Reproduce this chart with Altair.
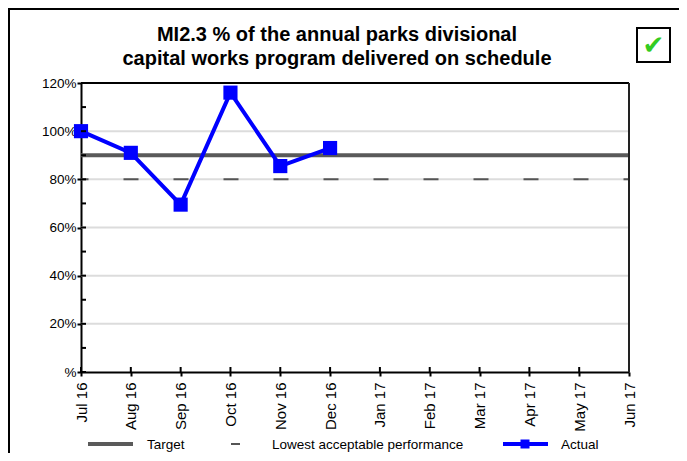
import altair as alt
import pandas as pd

months = ["Jul 16", "Aug 16", "Sep 16", "Oct 16", "Nov 16", "Dec 16",
          "Jan 17", "Feb 17", "Mar 17", "Apr 17", "May 17", "Jun 17"]
actual = [100, 91, 69.5, 116, 85.5, 93]
target = 90
lowest = 80
grid_vals = [20, 40, 60, 80, 100]
y_ticks = [0, 10, 20, 30, 40, 50, 60, 70, 80, 90, 100, 110, 120]
title_lines = ["MI2.3 % of the annual parks divisional",
               "capital works program delivered on schedule"]

W, H = 548, 289
FONT = "Liberation Sans"

df_act = pd.DataFrame({"month": months[:len(actual)], "value": actual})
df_months = pd.DataFrame({"month": months})
df_grid = pd.DataFrame({"v": grid_vals})
df_yt = pd.DataFrame({"v": y_ticks})
one = pd.DataFrame({"a": [0]})

xs = alt.Scale(domain=months, type="point", padding=0)
ys = alt.Scale(domain=[0, 120], nice=False)

x_enc = alt.X("month:N", scale=xs, sort=months, title=None,
              axis=alt.Axis(labelAngle=-90, labelAlign="right", labelBaseline="middle",
                            labelFontSize=15, labelFont=FONT, labelColor="black",
                            labelPadding=6,
                            tickSize=4, tickWidth=2, tickColor="black",
                            domainColor="black", domainWidth=2, grid=False))
y_axis = alt.Axis(values=y_ticks, grid=False, tickSize=4, tickWidth=2, tickColor="black",
                  domainColor="black", domainWidth=2, labelFontSize=13.5, labelFont=FONT,
                  labelColor="black", labelPadding=1,
                  labelExpr="datum.value % 20 == 0 ? (datum.value == 0 ? '%' : datum.value + '%') : ''")

base_axes = alt.Chart(df_months).mark_point(opacity=0).encode(
    x=x_enc, y=alt.Y("v:Q", scale=ys, axis=y_axis, title=None)
).transform_calculate(v="0")

grid = alt.Chart(df_grid).mark_rule(color="#dcdcdc", strokeWidth=2).encode(
    y=alt.Y("v:Q", scale=ys), x=alt.value(0), x2=alt.value(W))

yt_in = alt.Chart(df_yt).mark_rule(color="black", strokeWidth=2).encode(
    y=alt.Y("v:Q", scale=ys), x=alt.value(0), x2=alt.value(5))

xt_in = alt.Chart(df_months).mark_rule(color="black", strokeWidth=2).encode(
    x=alt.X("month:N", scale=xs, sort=months), y=alt.value(H), y2=alt.value(H - 5))

low_line = alt.Chart(pd.DataFrame({"v": [lowest]})).mark_rule(
    color="#555555", strokeWidth=2, strokeDash=[15, 35], strokeDashOffset=7.5).encode(
    y=alt.Y("v:Q", scale=ys), x=alt.value(0), x2=alt.value(W))

tgt_line = alt.Chart(pd.DataFrame({"v": [target]})).mark_rule(
    color="#5a5a5a", strokeWidth=4).encode(
    y=alt.Y("v:Q", scale=ys), x=alt.value(0), x2=alt.value(W))

act_line = alt.Chart(df_act).mark_line(color="#0000ff", strokeWidth=4).encode(
    x=alt.X("month:N", scale=xs, sort=months), y=alt.Y("value:Q", scale=ys))
act_pts = alt.Chart(df_act).mark_point(shape="square", filled=True, color="#0000ff",
                                       size=200, opacity=1).encode(
    x=alt.X("month:N", scale=xs, sort=months), y=alt.Y("value:Q", scale=ys))

# plot frame top/right
top_rule = alt.Chart(one).mark_rule(color="black", strokeWidth=2).encode(
    x=alt.value(0), x2=alt.value(W), y=alt.value(0))
right_rule = alt.Chart(one).mark_rule(color="#222222", strokeWidth=2).encode(
    x=alt.value(W), y=alt.value(0), y2=alt.value(H))

# outer frame
frame = alt.Chart(one).mark_rect(fill=None, stroke="black", strokeWidth=2).encode(
    x=alt.value(-72), y=alt.value(-74), x2=alt.value(W + 80), y2=alt.value(H + 120))

# title as text
titles = [
    alt.Chart(one).mark_text(text=title_lines[0], fontSize=20, font=FONT, fontWeight="bold",
                             align="center", baseline="alphabetic", color="black").encode(
        x=alt.value(256), y=alt.value(-42)),
    alt.Chart(one).mark_text(text=title_lines[1], fontSize=20, font=FONT, fontWeight="bold",
                             align="center", baseline="alphabetic", color="black").encode(
        x=alt.value(256), y=alt.value(-18)),
]

# check box
chk_box = alt.Chart(one).mark_rect(fill="white", stroke="black", strokeWidth=2).encode(
    x=alt.value(556), y=alt.value(-55), x2=alt.value(589), y2=alt.value(-21))
chk = alt.Chart(one).mark_text(text="\u2714", color="#33cc22", fontSize=26,
                               font="DejaVu Sans", align="center", baseline="middle").encode(
    x=alt.value(572.5), y=alt.value(-37))

# manual legend
LY = 361
LFS = 13.5
leg = [
    alt.Chart(one).mark_rule(color="#5a5a5a", strokeWidth=4).encode(
        x=alt.value(7), x2=alt.value(52), y=alt.value(LY)),
    alt.Chart(one).mark_text(text="Target", fontSize=LFS, font=FONT, align="left",
                             baseline="middle", color="black").encode(
        x=alt.value(66), y=alt.value(LY + 1)),
    alt.Chart(one).mark_rule(color="#555555", strokeWidth=2).encode(
        x=alt.value(150), x2=alt.value(159), y=alt.value(LY)),
    alt.Chart(one).mark_text(text="Lowest acceptable performance", fontSize=LFS, font=FONT,
                             align="left", baseline="middle", color="black").encode(
        x=alt.value(191), y=alt.value(LY + 1)),
    alt.Chart(one).mark_rule(color="#0000ff", strokeWidth=4).encode(
        x=alt.value(422), x2=alt.value(467), y=alt.value(LY)),
    alt.Chart(one).mark_point(shape="square", filled=True, color="#0000ff", size=81,
                              opacity=1).encode(
        x=alt.value(444), y=alt.value(LY)),
    alt.Chart(one).mark_text(text="Actual", fontSize=LFS, font=FONT, align="left",
                             baseline="middle", color="black").encode(
        x=alt.value(480), y=alt.value(LY + 1)),
]

chart = alt.layer(
    frame, grid, base_axes, low_line, tgt_line, act_line, act_pts, yt_in, xt_in,
    top_rule, right_rule, *titles, chk_box, chk, *leg
).properties(
    width=W, height=H,
    autosize=alt.AutoSizeParams(type="none"),
    padding={"left": 73, "top": 75, "right": 50, "bottom": 81},
).configure_view(stroke=None).configure(font=FONT)

chart.save("out.html", embed_options={"renderer": "svg", "actions": False})
